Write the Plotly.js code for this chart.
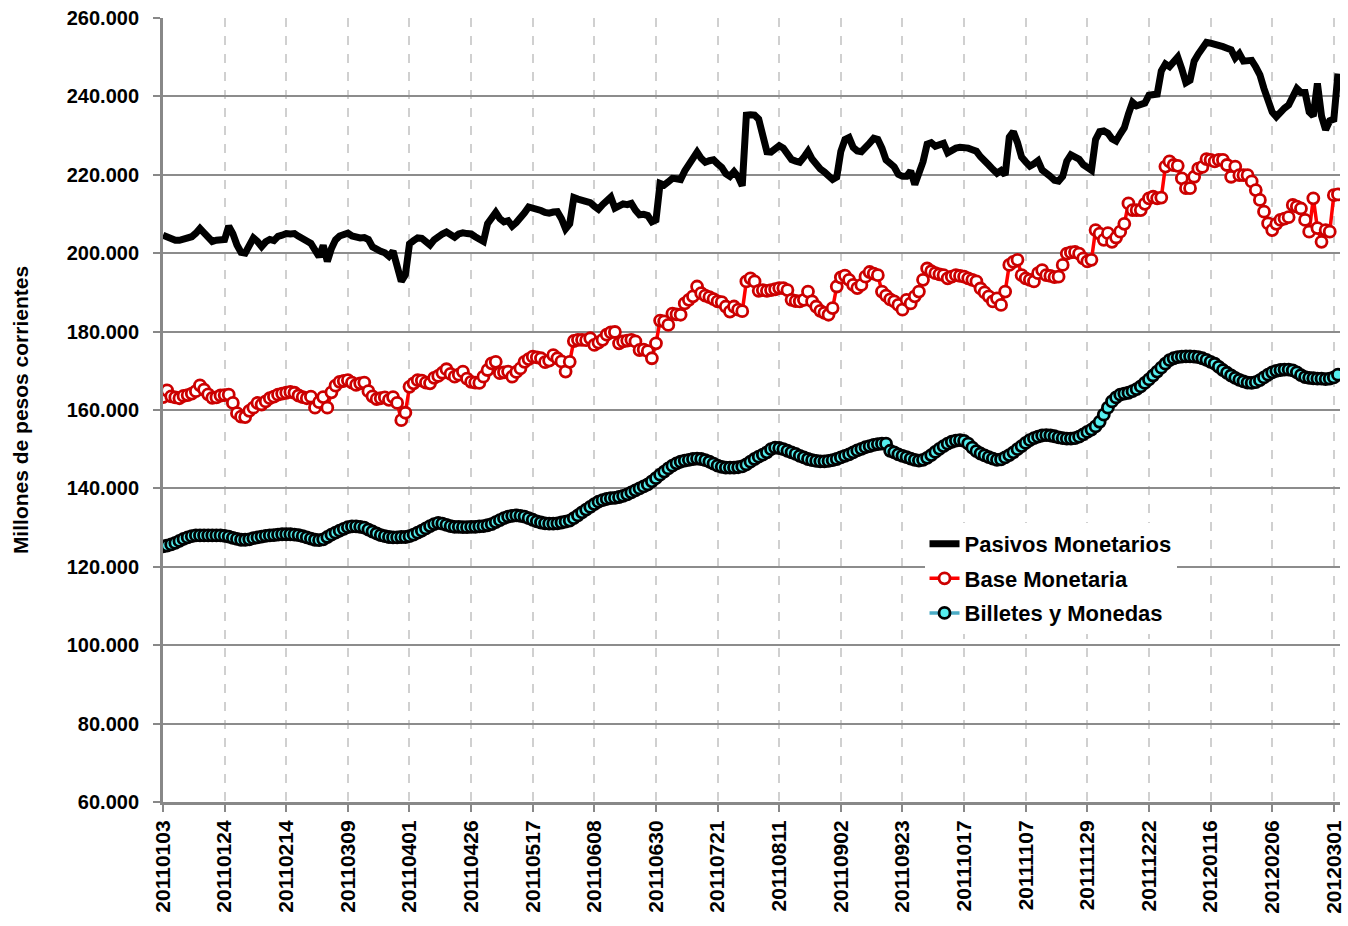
<!DOCTYPE html>
<html>
<head>
<meta charset="utf-8">
<script src="https://cdn.plot.ly/plotly-3.0.1.min.js"></script>
<style>html,body{margin:0;padding:0;background:#fff;}#chart{width:1348px;height:926px;}</style>
</head>
<body>
<div id="chart"></div>
<script>
// Tick labels (every 15 business days)
const tickLabels = ["20110103","20110124","20110214","20110309","20110401","20110426","20110517","20110608","20110630","20110721","20110811","20110902","20110923","20111017","20111107","20111129","20111222","20120116","20120206","20120301"];

// Series values, thousands of millions of pesos (one value per business day)
const pasivosMonetarios = [
204.6,204.1,203.5,203.3,203.3,203.5,203.6,204.2,205.1,206.3,205.2,203.8,203.0,203.3,203.4,
203.5,206.9,205.0,202.1,200.2,200.0,202.0,203.9,203.0,201.7,202.9,203.5,203.2,204.3,204.6,
205.0,204.9,205.0,204.3,203.5,203.1,202.5,200.6,199.1,202.0,197.9,201.2,203.4,204.4,205.0,
205.1,204.4,204.0,203.9,204.0,203.5,201.6,200.8,200.5,200.1,199.2,200.5,195.9,192.8,194.5,
202.4,203.2,203.9,203.8,202.9,202.1,203.4,204.4,204.9,205.4,204.6,204.1,204.9,205.2,205.0,
204.9,204.2,203.6,203.0,207.5,209.0,210.4,208.8,208.0,208.3,206.9,207.8,208.9,210.3,211.8,
211.6,211.2,210.9,210.4,210.2,210.5,210.6,208.8,206.2,207.5,214.2,213.8,213.6,213.3,212.9,
212.0,211.2,212.4,213.2,214.3,211.5,212.2,212.6,212.4,212.7,211.0,209.8,209.9,209.6,208.0,
208.5,217.8,217.4,218.2,219.1,219.0,218.8,221.0,222.6,224.6,225.8,224.2,223.2,223.6,223.8,
222.8,221.9,220.3,219.6,220.8,219.5,217.2,235.2,235.3,235.2,234.2,229.5,225.9,225.8,226.4,
227.4,226.8,225.5,223.9,223.5,223.2,224.5,226.0,224.0,222.4,221.5,220.7,219.6,218.8,219.4,
226.0,229.0,229.5,227.0,226.1,225.9,226.8,228.1,229.3,229.0,226.8,223.8,222.9,222.0,220.1,
219.6,219.6,221.0,217.5,220.3,223.3,227.8,228.2,227.3,227.6,228.0,225.6,226.4,226.8,227.0,
227.1,226.8,226.4,226.0,224.6,223.8,222.5,221.4,220.4,221.1,220.0,229.6,231.0,228.2,224.5,
223.3,222.2,222.8,223.6,221.2,220.6,219.6,218.6,218.4,219.6,223.5,225.1,224.5,224.0,222.6,
221.8,221.2,229.0,231.0,231.2,230.6,229.2,228.6,230.4,232.0,235.5,238.5,237.6,237.9,238.3,
240.3,240.4,240.6,246.5,248.3,247.6,249.2,250.0,247.0,243.5,244.1,249.0,250.8,252.0,253.8,
253.6,253.4,253.0,252.7,252.3,251.9,249.8,250.9,249.0,249.0,249.2,247.5,245.5,242.0,238.5,
236.0,234.8,236.2,237.0,237.8,240.0,242.0,241.0,241.0,236.0,235.0,243.3,235.0,231.5,233.8,
234.2,245.8];

const baseMonetaria = [
163.3,165.0,163.5,163.2,163.0,163.6,163.8,164.2,164.8,166.3,165.2,164.0,163.1,163.2,163.7,
163.8,163.9,161.8,159.2,158.3,158.2,159.8,160.6,161.8,161.4,162.2,163.0,163.4,163.9,164.2,
164.4,164.6,164.4,163.7,163.3,163.0,163.4,160.6,162.0,163.3,160.6,164.5,166.2,167.2,167.4,
167.6,167.0,166.4,166.8,167.0,164.8,163.5,162.8,163.0,163.2,162.6,163.3,161.8,157.4,159.3,
165.9,166.8,167.6,167.5,167.0,166.8,168.2,168.7,169.5,170.4,169.2,168.5,169.0,169.8,168.0,
167.2,167.0,166.9,168.5,170.2,171.9,172.3,169.4,169.6,169.8,168.5,169.7,170.6,172.3,173.0,
173.6,173.4,173.2,172.2,172.6,174.0,173.2,172.4,169.8,172.3,177.6,177.9,177.9,177.8,178.3,
176.6,177.2,177.9,179.2,179.8,179.9,177.0,177.5,177.7,177.9,177.5,175.3,175.4,175.0,173.2,
177.0,182.8,182.6,181.7,184.6,184.4,184.3,187.2,188.1,189.0,191.5,189.8,189.2,188.8,188.3,
187.7,187.5,186.4,185.1,186.4,185.6,185.2,192.8,193.6,192.8,190.4,190.6,190.4,190.6,190.8,
191.1,191.1,190.6,188.1,187.8,187.7,188.1,190.2,187.7,186.4,185.3,184.8,184.3,186.0,191.5,
193.8,194.3,193.2,191.9,191.1,191.9,194.0,195.2,194.8,194.4,190.2,189.2,188.2,187.7,186.8,
185.6,188.1,187.2,189.0,190.2,193.2,196.1,195.4,194.9,194.6,194.4,193.6,194.0,194.4,194.2,
194.0,193.6,193.2,192.8,191.0,190.0,189.0,187.7,188.5,186.8,190.2,197.0,197.8,198.3,194.4,
193.6,193.2,192.8,194.9,195.7,194.4,194.2,193.9,194.0,197.0,199.9,200.2,200.3,199.9,198.7,
197.9,198.3,205.9,205.0,203.4,205.1,202.9,204.0,205.5,207.5,212.7,211.0,211.0,211.0,212.6,
214.0,214.4,214.0,214.2,222.1,223.4,222.5,222.3,219.1,216.6,216.6,219.5,221.6,222.0,224.0,
223.8,223.4,223.8,223.8,222.5,219.5,222.1,219.9,219.9,219.9,218.3,216.1,213.6,210.6,207.6,
205.9,207.5,208.5,208.8,209.2,212.3,211.9,211.4,208.5,205.5,214.0,206.4,202.9,205.9,205.5,
214.8,215.0];

const billetesMonedas = [
125.2,125.4,125.7,126.1,126.6,127.1,127.5,127.8,128.0,128.0,128.0,128.0,128.0,128.0,128.0,
127.9,127.7,127.4,127.1,126.9,126.9,127.0,127.3,127.5,127.7,127.9,128.0,128.1,128.2,128.3,
128.3,128.3,128.2,128.1,127.8,127.5,127.2,126.9,126.8,127.0,127.6,128.2,128.7,129.2,129.7,
130.1,130.3,130.3,130.2,130.0,129.5,129.0,128.5,128.1,127.8,127.6,127.5,127.5,127.6,127.6,
127.8,128.2,128.7,129.2,129.8,130.4,130.9,131.2,131.0,130.7,130.4,130.2,130.2,130.1,130.1,
130.2,130.2,130.3,130.4,130.6,130.9,131.4,131.9,132.4,132.8,133.0,133.1,133.0,132.8,132.4,
132.0,131.6,131.3,131.1,131.0,131.0,131.1,131.3,131.5,131.8,132.4,133.1,133.9,134.6,135.3,
136.0,136.6,137.0,137.3,137.5,137.6,137.8,138.1,138.5,139.0,139.5,140.0,140.5,141.0,141.8,
142.6,143.5,144.3,145.1,145.8,146.4,146.8,147.1,147.3,147.5,147.6,147.5,147.2,146.8,146.3,
145.8,145.5,145.3,145.3,145.3,145.4,145.6,146.1,146.8,147.5,148.1,148.6,149.2,150.0,150.4,
150.3,150.0,149.6,149.2,148.8,148.3,147.9,147.5,147.2,147.0,146.9,146.9,147.0,147.2,147.5,
147.9,148.3,148.7,149.2,149.7,150.1,150.5,150.8,151.1,151.3,151.4,151.4,149.6,149.2,148.7,
148.3,148.0,147.6,147.3,147.1,147.3,147.8,148.5,149.3,150.1,150.8,151.4,151.9,152.2,152.3,
152.1,151.4,150.4,149.5,148.9,148.4,148.0,147.6,147.3,147.4,147.9,148.5,149.2,150.0,150.8,
151.6,152.3,152.8,153.2,153.5,153.6,153.5,153.3,153.0,152.8,152.7,152.7,152.8,153.2,153.8,
154.4,155.0,155.8,157.0,158.8,160.6,162.2,163.2,163.9,164.2,164.4,164.8,165.3,166.0,166.9,
167.8,168.8,169.8,170.8,171.8,172.7,173.2,173.5,173.6,173.7,173.7,173.6,173.5,173.2,172.8,
172.3,171.8,171.0,170.2,169.5,168.8,168.2,167.7,167.3,167.0,166.9,167.1,167.6,168.3,169.0,
169.6,170.0,170.2,170.3,170.3,170.1,169.6,168.9,168.4,168.2,168.1,168.0,168.0,167.9,168.0,
168.3,169.0];

const seriesNames = ["Pasivos Monetarios","Base Monetaria","Billetes y Monedas"];

const toMillions = arr => arr.map(v => v * 1000);
const xIdx = pasivosMonetarios.map((_, i) => i);
const tickVals = tickLabels.map((_, i) => i * 15);

const FONT = "Liberation Sans, Arial, sans-serif";

const traces = [
  {
    x: xIdx, y: toMillions(pasivosMonetarios), name: seriesNames[0], legendgroup: "a",
    type: "scatter", mode: "lines",
    line: {color: "#000000", width: 7}
  },
  {
    x: xIdx, y: toMillions(baseMonetaria), name: seriesNames[1], legendgroup: "b",
    type: "scatter", mode: "lines+markers",
    line: {color: "#ff0000", width: 3.5},
    marker: {symbol: "circle", size: 11, color: "#ffffff", line: {color: "#cc0000", width: 2.8}}
  },
  {
    x: xIdx, y: toMillions(billetesMonedas), name: seriesNames[2], legendgroup: "c",
    type: "scatter", mode: "lines+markers",
    line: {color: "#4bacc6", width: 3.5},
    marker: {symbol: "circle", size: 11, color: "#55eeee", line: {color: "#000000", width: 2.8}}
  }
];

const layout = {
  width: 1348, height: 926,
  margin: {l: 163, r: 8, t: 18, b: 124},
  paper_bgcolor: "#ffffff", plot_bgcolor: "#ffffff",
  separators: ",.",
  font: {family: FONT, size: 21, color: "#000000", weight: 700},
  showlegend: true,
  legend: {
    x: 0.647, y: 0.356, xanchor: "left", yanchor: "top",
    bgcolor: "#ffffff", borderwidth: 0,
    font: {family: FONT, size: 22, color: "#000000", weight: 700},
    tracegroupgap: 3, itemwidth: 30
  },
  xaxis: {
    range: [0, 286.5],
    tickmode: "array", tickvals: tickVals, ticktext: tickLabels,
    tickangle: -90,
    tickfont: {family: FONT, size: 21, color: "#000000", weight: 700},
    showgrid: true, gridcolor: "#d0d0d0", gridwidth: 2, griddash: "dash",
    showline: true, linecolor: "#888888", linewidth: 3,
    ticks: "outside", ticklen: 7, tickcolor: "#888888", tickwidth: 2,
    zeroline: false, fixedrange: true
  },
  yaxis: {
    range: [60000, 260000],
    tickmode: "linear", tick0: 60000, dtick: 20000,
    tickformat: ",.0f",
    tickfont: {family: FONT, size: 20, color: "#000000", weight: 700},
    ticklabelstandoff: 10,
    showgrid: true, gridcolor: "#8c8c8c", gridwidth: 2,
    showline: true, linecolor: "#888888", linewidth: 3,
    ticks: "outside", ticklen: 7, tickcolor: "#888888", tickwidth: 2,
    zeroline: false, fixedrange: true,
    title: {text: "Millones de pesos corrientes", font: {family: FONT, size: 21, color: "#000000", weight: 700}, standoff: 33}
  }
};

Plotly.newPlot("chart", traces, layout, {displayModeBar: false, staticPlot: true});
</script>
</body>
</html>
